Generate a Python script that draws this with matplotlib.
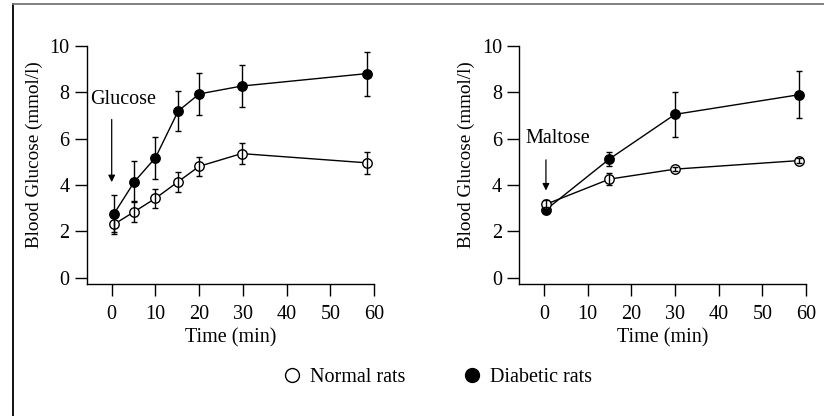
import numpy as np
import matplotlib
matplotlib.use('Agg')
from matplotlib import pyplot as plt
from matplotlib.lines import Line2D

plt.rcParams['font.family'] = ['Liberation Serif', 'DejaVu Serif']
plt.rcParams['font.size'] = 14.5

# glucose panel
glu_time = [0.5, 5.2, 10, 15.2, 20, 29.7, 58.5]
glu_normal = [2.3, 2.85, 3.42, 4.14, 4.8, 5.35, 4.95]
glu_normal_err = [0.42, 0.45, 0.4, 0.43, 0.42, 0.45, 0.46]
glu_diabetic = [2.75, 4.14, 5.17, 7.18, 7.92, 8.26, 8.8]
glu_diabetic_err = [0.8, 0.88, 0.9, 0.85, 0.9, 0.92, 0.95]

# maltose panel
mal_time = [0.5, 15, 30, 58.5]
mal_normal = [3.17, 4.25, 4.68, 5.05]
mal_normal_err = [0.2, 0.25, 0.1, 0.1]
mal_diabetic = [2.94, 5.12, 7.04, 7.89]
mal_diabetic_err = [0.12, 0.3, 0.97, 1.0]

xticks = [0, 10, 20, 30, 40, 50, 60]
yticks = [0, 2, 4, 6, 8, 10]

fig = plt.figure(figsize=(8.24, 4.16), dpi=100)
ax1 = fig.add_axes([87/824, 1-284/416, 287/824, 238.3/416])
ax2 = fig.add_axes([519.3/824, 1-284/416, 286.7/824, 238.3/416])


def draw(ax, t, n, ne, d, de):
    ax.plot(t, d, '-', color='black', lw=1, zorder=2)
    ax.plot(t, n, '-', color='black', lw=1, zorder=2)
    ax.plot(t, d, 'o', color='black', ms=6.8, zorder=3)
    ax.plot(t, n, 'o', mfc='white', mec='black', mew=1, ms=6.8, zorder=3)
    ax.errorbar(t, d, yerr=de, fmt='none', ecolor='black', elinewidth=1, capsize=2.5, capthick=1, zorder=4)
    ax.errorbar(t, n, yerr=ne, fmt='none', ecolor='black', elinewidth=1, capsize=2.5, capthick=1, zorder=4)
    ax.set_xlim(-5.65, 60)
    ax.set_ylim(-0.27, 10)
    ax.set_xticks(xticks)
    ax.set_yticks(yticks)
    for s in ['top', 'right']:
        ax.spines[s].set_visible(False)
    for s in ['left', 'bottom']:
        ax.spines[s].set_linewidth(1.0)
    ax.tick_params(direction='out', length=8.5, width=1, colors='black')
    ax.tick_params(axis='x', pad=6.5)
    ax.tick_params(axis='y', pad=4)
    ax.set_xlabel('Time (min)', labelpad=3)
    ax.set_ylabel('Blood Glucose (mmol/l)', fontsize=13.8)
    ax.yaxis.set_label_coords(-0.153, 0.545)


draw(ax1, glu_time, glu_normal, glu_normal_err, glu_diabetic, glu_diabetic_err)
draw(ax2, mal_time, mal_normal, mal_normal_err, mal_diabetic, mal_diabetic_err)

ax1.text(2.5, 7.7, 'Glucose', ha='center', va='center')
ax1.annotate('', xy=(0, 4.0), xytext=(0, 6.94),
             arrowprops=dict(arrowstyle='-|>', color='black', lw=0.9, mutation_scale=10))
ax2.text(3.1, 6.0, 'Maltose', ha='center', va='center')
ax2.annotate('', xy=(0.45, 3.64), xytext=(0.45, 5.2),
             arrowprops=dict(arrowstyle='-|>', color='black', lw=0.9, mutation_scale=10))

handles = [Line2D([], [], ls='none', marker='o', mfc='white', mec='black', mew=1, ms=10),
           Line2D([], [], ls='none', marker='o', color='black', ms=10)]
fig.legend(handles, ['Normal rats', 'Diabetic rats'], loc='center', bbox_to_anchor=(0.53, 0.092),
           ncol=2, frameon=False, handlelength=1.0, handletextpad=0.4, columnspacing=2.8,
           fontsize=14.5)

# frame lines around the figure
fig.add_artist(Line2D([12.7/824, 12.7/824], [0, 1-4.3/416], color='black', lw=1.3))
fig.add_artist(Line2D([12.7/824, 1], [1-4.3/416, 1-4.3/416], color='#777777', lw=1.3))

plt.savefig('out.png', dpi=100)
plt.close()
